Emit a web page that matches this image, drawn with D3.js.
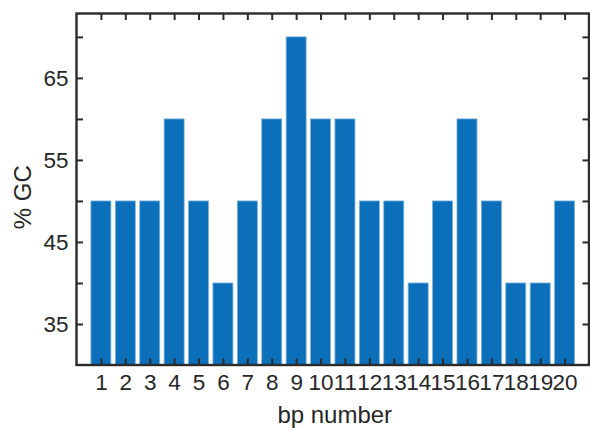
<!DOCTYPE html>
<html>
<head>
<meta charset="utf-8">
<script src="https://cdn.jsdelivr.net/npm/d3@7"></script>
<style>
  html, body { margin: 0; padding: 0; background: #fff; }
  svg { display: block; }
  text { font-family: "Liberation Sans", Arial, sans-serif; fill: #262626; }
</style>
</head>
<body>
<script>
// GC content per base-pair position
const positions = [1, 2, 3, 4, 5, 6, 7, 8, 9, 10, 11, 12, 13, 14, 15, 16, 17, 18, 19, 20];
const gcPercent = [50, 50, 50, 60, 50, 40, 50, 60, 70, 60, 60, 50, 50, 40, 50, 60, 50, 40, 40, 50];
const yTickValues = [35, 40, 45, 50, 55, 60, 65, 70];
const yTickLabels = [35, 45, 55, 65];

const W = 590, H = 430;
const plotLeft = 76.5, plotRight = 589, plotTop = 13.5, plotBottom = 365;

const svg = d3.select("body").append("svg").attr("width", W).attr("height", H);

const x = d3.scaleLinear().domain([0, 21]).range([plotLeft, plotRight]);
const y = d3.scaleLinear().domain([30, 72.85]).range([plotBottom, plotTop]);
const step = x(1) - x(0);
const barW = step * 0.82;

// bars
svg.append("g").selectAll("rect")
  .data(positions)
  .join("rect")
  .attr("x", (d) => x(d) - barW / 2)
  .attr("width", barW)
  .attr("y", (d, i) => y(gcPercent[i]))
  .attr("height", (d, i) => y(30) - y(gcPercent[i]))
  .attr("fill", "#0b6fb9")
  .attr("stroke", "#7db5df")
  .attr("stroke-width", 0.8);

const tickLen = 6.5;
const axisColor = "#2b2b2b";

// inward ticks on all four sides
const bottomAxis = d3.axisBottom(x).tickValues(positions).tickSizeInner(-tickLen).tickSizeOuter(0).tickFormat(d3.format("d"));
const gB = svg.append("g").attr("transform", `translate(0,${plotBottom})`).call(bottomAxis);
const topAxis = d3.axisTop(x).tickValues(positions).tickSizeInner(-tickLen).tickSizeOuter(0).tickFormat("");
const gT = svg.append("g").attr("transform", `translate(0,${plotTop})`).call(topAxis);
const leftAxis = d3.axisLeft(y).tickValues(yTickValues).tickSizeInner(-tickLen).tickSizeOuter(0)
  .tickFormat((d) => yTickLabels.includes(d) ? d : "");
const gL = svg.append("g").attr("transform", `translate(${plotLeft},0)`).call(leftAxis);
const rightAxis = d3.axisRight(y).tickValues(yTickValues).tickSizeInner(-tickLen).tickSizeOuter(0).tickFormat("");
const gR = svg.append("g").attr("transform", `translate(${plotRight},0)`).call(rightAxis);

[gB, gT, gL, gR].forEach((g) => {
  g.select(".domain").remove();
  g.selectAll(".tick line").attr("stroke", axisColor).attr("stroke-width", 2);
  g.selectAll(".tick text").attr("font-size", 22.5).attr("fill", "#262626")
    .attr("font-family", "'Liberation Sans', Arial, sans-serif");
});
gB.selectAll(".tick text").attr("dy", "0.71em").attr("y", 9.5);
gL.selectAll(".tick text").attr("x", -8);

// frame
svg.append("rect")
  .attr("x", plotLeft).attr("y", plotTop)
  .attr("width", plotRight - plotLeft).attr("height", plotBottom - plotTop)
  .attr("fill", "none").attr("stroke", axisColor).attr("stroke-width", 2.4);

// axis titles
svg.append("text")
  .attr("x", (plotLeft + plotRight) / 2 + 2)
  .attr("y", 423)
  .attr("text-anchor", "middle")
  .attr("font-size", 24)
  .text("bp number");

svg.append("text")
  .attr("transform", `translate(31,${(plotTop + plotBottom) / 2 + 8}) rotate(-90)`)
  .attr("text-anchor", "middle")
  .attr("font-size", 24)
  .text("% GC");
</script>
</body>
</html>
